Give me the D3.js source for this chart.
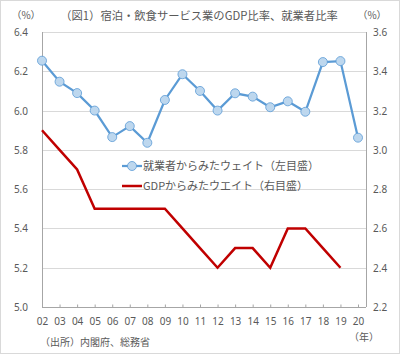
<!DOCTYPE html>
<html lang="ja">
<head>
<meta charset="UTF-8">
<title>宿泊・飲食サービス業のGDP比率、就業者比率</title>
<script src="https://d3js.org/d3.v7.min.js"></script>
<style>
  body { margin: 0; background: #fff; }
  svg text { font-family: "Noto Sans CJK JP", "Noto Sans", sans-serif; fill: #595959; }
  .tick-label { font-size: 10px; }
</style>
</head>
<body>
<svg id="chart"></svg>
<script>
const years = ["02","03","04","05","06","07","08","09","10","11","12","13","14","15","16","17","18","19","20"];
const employment = [6.254, 6.147, 6.089, 6.0, 5.865, 5.921, 5.836, 6.054, 6.185, 6.1, 6.0, 6.088, 6.071, 6.017, 6.047, 5.994, 6.247, 6.252, 5.862];
const gdp = [3.1, 3.0, 2.9, 2.7, 2.7, 2.7, 2.7, 2.7, 2.6, 2.5, 2.4, 2.5, 2.5, 2.4, 2.6, 2.6, 2.5, 2.4, null];
const leftTicks = [5.0, 5.2, 5.4, 5.6, 5.8, 6.0, 6.2, 6.4];
const rightTicks = [2.2, 2.4, 2.6, 2.8, 3.0, 3.2, 3.4, 3.6];
const seriesNames = ["就業者からみたウェイト（左目盛）", "GDPからみたウエイト（右目盛）"];

const W = 400, H = 354;
const plot = { left: 42, right: 366, top: 32, bottom: 307 };

const svg = d3.select("#chart").attr("width", W).attr("height", H);

svg.append("rect")
  .attr("x", 0.5).attr("y", 0.5).attr("width", W - 1).attr("height", H - 1)
  .attr("fill", "#fff").attr("stroke", "#d9d9d9");

const x = d3.scalePoint().domain(years).range([plot.left, 358]);
const yL = d3.scaleLinear().domain([5.0, 6.4]).range([plot.bottom, plot.top]);
const yR = d3.scaleLinear().domain([2.2, 3.6]).range([plot.bottom, plot.top]);

// gridlines
svg.append("g").selectAll("line")
  .data(leftTicks.slice(1))
  .enter().append("line")
  .attr("x1", plot.left).attr("x2", plot.right)
  .attr("y1", d => Math.round(yL(d)) + 0.5).attr("y2", d => Math.round(yL(d)) + 0.5)
  .attr("stroke", "#d9d9d9");

// right axis line
svg.append("line")
  .attr("x1", plot.right + 0.5).attr("x2", plot.right + 0.5)
  .attr("y1", plot.top).attr("y2", plot.bottom)
  .attr("stroke", "#a6a6a6");

// left axis line
svg.append("line")
  .attr("x1", plot.left + 0.5).attr("x2", plot.left + 0.5)
  .attr("y1", plot.top).attr("y2", plot.bottom)
  .attr("stroke", "#a6a6a6");

// bottom axis
const xAxis = svg.append("g")
  .attr("transform", `translate(0,${plot.bottom + 0.5})`)
  .call(d3.axisBottom(x).tickSizeInner(-3).tickSizeOuter(0).tickPadding(10));
xAxis.select(".domain").attr("stroke", "#a6a6a6").attr("d", `M${plot.left},0H${plot.right}`);
xAxis.selectAll(".tick line").attr("stroke", "#a6a6a6");
xAxis.selectAll("text").attr("class", "tick-label").attr("fill", "#595959")
  .style("font-family", "'Noto Sans', sans-serif").attr("font-size", 10);

// left tick labels
svg.append("g").selectAll("text")
  .data(leftTicks)
  .enter().append("text")
  .attr("class", "tick-label")
  .attr("x", 28).attr("y", d => yL(d) + 4)
  .attr("text-anchor", "end")
  .style("font-family", "'Noto Sans', sans-serif")
  .text(d => d.toFixed(1));

// right tick labels
svg.append("g").selectAll("text")
  .data(rightTicks)
  .enter().append("text")
  .attr("class", "tick-label")
  .attr("x", 373).attr("y", d => yR(d) + 4)
  .attr("text-anchor", "start")
  .style("font-family", "'Noto Sans', sans-serif")
  .text(d => d.toFixed(1));

// red line (GDP)
const redLine = d3.line()
  .defined(d => d.v !== null)
  .x(d => x(d.year)).y(d => yR(d.v));
svg.append("path")
  .datum(years.map((y, i) => ({ year: y, v: gdp[i] })))
  .attr("d", redLine)
  .attr("fill", "none").attr("stroke", "#c00000").attr("stroke-width", 2.5)
  .attr("stroke-linejoin", "miter");

// blue line (employment)
const blueData = years.map((y, i) => ({ year: y, v: employment[i] }));
svg.append("path")
  .datum(blueData)
  .attr("d", d3.line().x(d => x(d.year)).y(d => yL(d.v)))
  .attr("fill", "none").attr("stroke", "#5b9bd5").attr("stroke-width", 2.25);
svg.append("g").selectAll("circle")
  .data(blueData)
  .enter().append("circle")
  .attr("cx", d => x(d.year)).attr("cy", d => yL(d.v))
  .attr("r", 4.5)
  .attr("fill", "#bdd7ee").attr("stroke", "#5b9bd5").attr("stroke-width", 0.8);

// legend
const legend = svg.append("g");
legend.append("line").attr("x1", 122).attr("x2", 142).attr("y1", 166).attr("y2", 166)
  .attr("stroke", "#5b9bd5").attr("stroke-width", 2.25);
legend.append("circle").attr("cx", 132).attr("cy", 166).attr("r", 4.5)
  .attr("fill", "#bdd7ee").attr("stroke", "#5b9bd5").attr("stroke-width", 0.8);
legend.append("text").attr("x", 143).attr("y", 170).attr("font-size", 11).text(seriesNames[0]);
legend.append("line").attr("x1", 122).attr("x2", 142).attr("y1", 186).attr("y2", 186)
  .attr("stroke", "#c00000").attr("stroke-width", 2.5);
legend.append("text").attr("x", 143).attr("y", 190).attr("font-size", 11).text(seriesNames[1]);

// titles and notes
svg.append("text").attr("x", 199).attr("y", 20).attr("text-anchor", "middle")
  .attr("font-size", 11.3).text("（図1）宿泊・飲食サービス業のGDP比率、就業者比率");
svg.append("text").attr("x", 26).attr("y", 19).attr("text-anchor", "middle")
  .attr("font-size", 10).text("（%）");
svg.append("text").attr("x", 372).attr("y", 19).attr("text-anchor", "middle")
  .attr("font-size", 10).text("（%）");
svg.append("text").attr("x", 364).attr("y", 341).attr("text-anchor", "middle")
  .attr("font-size", 10).text("（年）");
svg.append("text").attr("x", 40).attr("y", 346)
  .attr("font-size", 10).text("（出所）内閣府、総務省");
</script>
</body>
</html>
